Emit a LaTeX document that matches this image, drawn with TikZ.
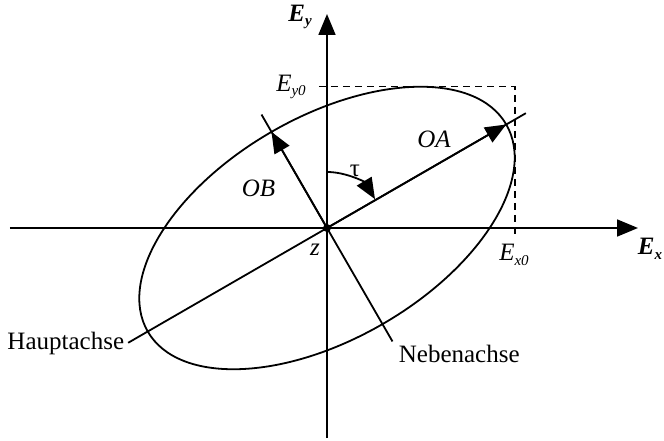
\documentclass[tikz,border=0pt]{standalone}
\usepackage{fontspec}
\setmainfont{Liberation Serif}
\usetikzlibrary{arrows.meta}
\newcommand{\mysub}[1]{\raisebox{-0.4ex}{\fontsize{15}{15}\selectfont\itshape #1}}
\begin{document}
\begin{tikzpicture}[x=1pt,y=1pt,line width=1.8pt,
  font=\fontsize{25}{30}\selectfont,
  arr/.style={-{Triangle[length=21pt,width=17pt]}},
  lbl/.style={inner sep=0pt},
  guide/.style={line width=1.6pt,dash pattern=on 7pt off 5pt}]
\useasboundingbox (-327,-213) rectangle (337,228);
% points
\coordinate (O) at (0,0);
\coordinate (xs) at (-317,0);
\coordinate (xe) at (311,0);
\coordinate (ys) at (0,-210);
\coordinate (ye) at (0,214);
\coordinate (A) at (30:207);
\coordinate (B) at (120:111);
\coordinate (H1) at (210:229.6);
\coordinate (H2) at (30:229.6);
\coordinate (N1) at (120:131);
\coordinate (N2) at (300:131);
\coordinate (T1) at (90:56);
\coordinate (D1) at (-8,141.3);
\coordinate (D2) at (187.7,141.3);
\coordinate (D3) at (187.7,-9);
% ellipse
\draw[rotate=30] (O) ellipse[x radius=207pt,y radius=111pt];
% axes
\draw[arr] (xs) -- (xe);
\draw[arr] (ys) -- (ye);
% main and minor axes
\draw (H1) -- (H2);
\draw (N1) -- (N2);
\draw[arr] (O) -- (A);
\draw[arr] (O) -- (B);
% tau arc
\draw[arr] (T1) arc[start angle=90,end angle=31,radius=56pt];
% dashed guides
\draw[guide] (D1) -- (D2) -- (D3);
% origin dot
\fill (O) circle[radius=4pt];
% labels
\node[lbl] (Ey) at (-27,211) {\bfseries\itshape E\mysub{y}};
\node[lbl] (Ex) at (323,-21) {\bfseries\itshape E\mysub{x}};
\node[lbl] (Ey0) at (-36,141) {\itshape E\mysub{y0}};
\node[lbl] (Ex0) at (187,-27) {\itshape E\mysub{x0}};
\node[lbl] (tau) at (28,57) {τ};
\node[lbl] (OA) at (107,89) {\itshape OA};
\node[lbl] (OB) at (-68.5,40) {\itshape OB};
\node[lbl] (z) at (-12,-22) {\itshape z};
\node[lbl,anchor=east] (Haupt) at (-202,-115) {Hauptachse};
\node[lbl,anchor=west] (Neben) at (71,-126) {Nebenachse};
\end{tikzpicture}
\end{document}
